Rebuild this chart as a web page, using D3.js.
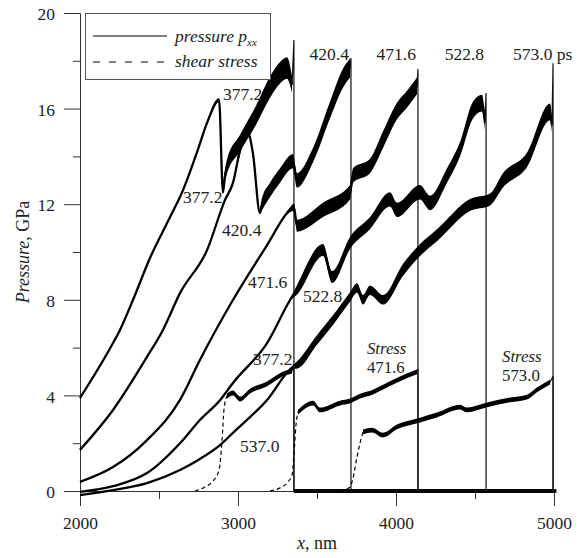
<!DOCTYPE html>
<html><head><meta charset="utf-8">
<script src="https://cdn.jsdelivr.net/npm/d3@7"></script>
<style>
body{margin:0;background:#fff}
svg text{font-family:"Liberation Serif","Times New Roman",serif;fill:#222}
</style></head><body>
<svg id="chart" width="584" height="558"></svg>
<script>
// Pressure p_xx and shear stress profiles behind a travelling shock front.
// Each point: [x (nm), value (GPa), fluctuation half-width (GPa)]
const times = ["377.2", "420.4", "471.6", "522.8", "573.0"];
const fronts = [3354, 3715, 4139, 4570, 4994];

const p377 = [[2000,3.89,0],[2209,6.19,0],[2253,6.74,0],[2335,7.99,0],[2443,9.75,0],[2570,11.46,0],[2652,12.59,0],[2741,14.18,0.05],[2804,15.40,0.08],[2880,16.36,0.08],[2905,12.5,0.05],[2918,13.2,0.25],[2930,13.56,0.3],[3013,14.56,0.35],[3120,15.8,0.4],[3203,16.9,0.45],[3266,17.5,0.45],[3310,17.7,0.45],[3342,17.0,0.35],[3354,18.87,0],[3354,0,0.08],[5000,0,0.08]];
const p420 = [[2000,1.72,0],[2209,3.39,0],[2424,5.61,0],[2525,6.74,0],[2633,8.28,0],[2804,10.08,0],[2918,12.18,0],[2968,12.89,0.08],[3013,14.27,0.2],[3057,15.10,0.15],[3095,14.1,0.05],[3139,11.63,0.05],[3150,11.97,0.25],[3203,12.6,0.3],[3266,13.2,0.3],[3348,13.8,0.3],[3373,13.0,0.3],[3475,14.06,0.3],[3582,15.94,0.35],[3665,17.28,0.4],[3709,17.7,0.4],[3715,18.12,0],[3715,0,0.08],[5000,0,0.08]];
const p471 = [[2000,0.38,0],[2209,1.00,0],[2424,2.13,0],[2633,3.81,0],[2759,5.48,0],[2968,7.99,0],[3076,9.16,0],[3184,10.29,0],[3329,11.76,0.1],[3354,11.88,0.15],[3373,11.1,0.25],[3538,11.76,0.3],[3709,12.5,0.3],[3728,13.2,0.3],[3835,13.6,0.3],[3918,14.7,0.35],[4006,15.9,0.35],[4070,16.4,0.35],[4133,16.95,0.35],[4139,17.66,0],[4139,0,0.08],[5000,0,0.08]];
const p522 = [[2000,-0.04,0],[2209,0.2,0],[2424,0.75,0],[2633,2.0,0],[2759,2.97,0],[2886,3.8,0],[2968,4.52,0],[3184,6.19,0],[3342,8.12,0.08],[3373,8.41,0.2],[3538,10.08,0.25],[3595,8.95,0.25],[3709,10.38,0.25],[3835,11.2,0.25],[3962,12.2,0.3],[4006,11.76,0.3],[4152,12.5,0.3],[4215,12.05,0.3],[4323,13.2,0.3],[4405,14.3,0.3],[4487,15.94,0.35],[4544,16.23,0.35],[4563,15.4,0.3],[4570,16.65,0],[4570,0,0.08],[5000,0,0.08]];
const p573 = [[2000,-0.17,0],[2209,0.04,0],[2424,0.33,0],[2633,0.88,0],[2759,1.34,0],[2886,1.92,0],[2968,2.43,0],[3184,3.81,0],[3348,5.19,0.08],[3373,5.27,0.15],[3500,6.32,0.2],[3601,7.15,0.2],[3709,8.12,0.2],[3753,8.49,0.2],[3791,8.0,0.2],[3835,8.4,0.2],[3918,8.0,0.2],[4044,9.25,0.25],[4152,10.08,0.25],[4259,10.7,0.25],[4468,11.97,0.25],[4595,12.2,0.25],[4677,13.0,0.3],[4829,13.85,0.3],[4975,15.86,0.35],[4987,15.3,0.3],[4994,17.9,0],[4994,0,0.08],[5015,0,0.08]];

const s377 = [[2728,0,0],[2791,0.17,0],[2842,0.42,0],[2880,0.88,0],[2899,2.13,0],[2911,3.39,0],[2930,3.97,0.1],[2968,4.10,0.1],[3013,3.85,0.1],[3076,4.18,0.1],[3184,4.48,0.1],[3285,4.90,0.1],[3342,5.02,0.1],[3354,5.3,0],[3354,0,0]];
const s471 = [[3203,0,0],[3266,0.13,0],[3316,0.38,0],[3342,0.67,0],[3354,1.5,0],[3367,2.76,0],[3380,3.30,0.1],[3475,3.68,0.1],[3519,3.39,0.1],[3646,3.68,0.1],[3709,3.77,0.1],[3772,3.97,0.1],[3854,4.14,0.1],[3918,4.35,0.1],[4025,4.69,0.1],[4133,4.98,0.1],[4139,5.1,0],[4139,0,0]];
const s573 = [[3646,0,0],[3709,0.17,0],[3728,0.54,0],[3753,1.42,0],[3772,2.0,0],[3791,2.47,0.1],[3848,2.55,0.1],[3918,2.34,0.1],[4006,2.68,0.1],[4152,2.97,0.1],[4259,3.18,0.1],[4405,3.51,0.1],[4449,3.39,0.1],[4576,3.6,0.1],[4722,3.81,0.1],[4829,3.93,0.1],[4892,4.23,0.1],[4975,4.56,0.1],[4994,4.8,0],[4994,0,0]];

const xMajor = [2000, 3000, 4000, 5000];
const xMinor = [2500, 3500, 4500];
const yMajor = [0, 4, 8, 12, 16, 20];
const yMinor = [2, 6, 10, 14, 18];

// curve annotations: [lines of text, x (nm), y of first baseline (GPa), italic first line]
const notes = [
  [["377.2"], 2905, 16.36], [["377.2"], 2652, 12.05], [["420.4"], 2899, 10.67],
  [["471.6"], 3063, 8.49], [["522.8"], 3411, 7.91], [["377.2"], 3095, 5.27],
  [["537.0"], 3013, 1.63],
  [["Stress", "471.6"], 3816, 5.72, true],
  [["Stress", "573.0"], 4671, 5.39, true]
];
const frontLabelY = 18.03;

const svg = d3.select("#chart");
const x = d3.scaleLinear().domain([2000, 5000]).range([80, 554]);
const y = d3.scaleLinear().domain([0, 20]).range([491, 13]);
const FS = 17.5;

// axes
function styleAxis(g) {
  g.selectAll("path,line").attr("stroke", "#333").attr("stroke-width", 1);
  g.selectAll("text").attr("font-size", FS).attr("fill", "#222")
    .attr("font-family", "Liberation Serif, Times New Roman, serif");
}
svg.append("g").attr("transform", "translate(0,491)")
  .call(d3.axisBottom(x).tickValues(xMinor).tickSize(8).tickSizeOuter(0).tickFormat(""))
  .call(styleAxis);
svg.append("g").attr("transform", "translate(0,491)")
  .call(d3.axisBottom(x).tickValues(xMajor).tickSize(15).tickSizeOuter(0).tickPadding(11).tickFormat(d3.format("d")))
  .call(styleAxis);
svg.append("g").attr("transform", "translate(80,0)")
  .call(d3.axisLeft(y).tickValues(yMinor).tickSize(7).tickSizeOuter(0).tickFormat(""))
  .call(styleAxis);
svg.append("g").attr("transform", "translate(80,0)")
  .call(d3.axisLeft(y).tickValues(yMajor).tickSize(16).tickSizeOuter(0).tickPadding(9).tickFormat(d3.format("d")))
  .call(g => g.selectAll("text").attr("dy", "0.38em"))
  .call(styleAxis);

const smooth = d3.curveMonotoneX;
const bandSmooth = d3.area().curve(smooth).x(d => x(d[0])).y0(d => y(d[1] - d[2])).y1(d => y(d[1] + d[2]));
const lineSmooth = d3.line().curve(smooth).x(d => x(d[0])).y(d => y(d[1]));
const bandLin = d3.area().x(d => x(d[0])).y0(d => y(d[1] - d[2])).y1(d => y(d[1] + d[2]));
const lineLin = d3.line().x(d => x(d[0])).y(d => y(d[1]));
const plot = svg.append("g");

function drawPressure(data, front) {
  const pre = data.filter(d => d[0] < front);
  const post = [pre[pre.length - 1]].concat(data.filter(d => d[0] >= front));
  const ahead = data.filter(d => d[0] >= front && d[1] === 0);
  plot.append("path").datum(pre).attr("d", bandSmooth).attr("fill", "#000");
  plot.append("path").datum(ahead).attr("d", bandLin).attr("fill", "#000");
  plot.append("path").datum(pre).attr("d", lineSmooth).attr("fill", "none")
    .attr("stroke", "#000").attr("stroke-width", 2.3).attr("stroke-linejoin", "round");
  plot.append("path").datum(post).attr("d", lineLin).attr("fill", "none")
    .attr("stroke", "#111").attr("stroke-width", 1.2);
}
function drawStress(data, front) {
  const k = data.findIndex(d => d[2] > 0);
  const rise = data.slice(0, k + 1);
  const plateau = data.filter(d => d[2] > 0);
  const drop = [plateau[plateau.length - 1]].concat(data.filter(d => d[0] >= front));
  plot.append("path").datum(rise).attr("d", lineSmooth).attr("fill", "none")
    .attr("stroke", "#000").attr("stroke-width", 1.2).attr("stroke-dasharray", "4,3");
  plot.append("path").datum(plateau).attr("d", bandSmooth).attr("fill", "#000");
  plot.append("path").datum(plateau).attr("d", lineSmooth).attr("fill", "none")
    .attr("stroke", "#000").attr("stroke-width", 2);
  plot.append("path").datum(drop).attr("d", lineLin).attr("fill", "none")
    .attr("stroke", "#111").attr("stroke-width", 1.2);
}
[p377, p420, p471, p522, p573].forEach((d, i) => drawPressure(d, fronts[i]));
drawStress(s377, fronts[0]);
drawStress(s471, fronts[2]);
drawStress(s573, fronts[4]);

// time labels above the fronts
const frontLabels = svg.append("g");
times.slice(1).forEach((t, i) => {
  const f = fronts[i + 1];
  const txt = frontLabels.append("text").attr("y", y(frontLabelY)).attr("font-size", FS);
  if (i === times.length - 2) {
    txt.attr("x", x(f) - 40).text(t + " ps");
  } else {
    txt.attr("x", x(f) - 2).attr("text-anchor", "end").text(t);
  }
});

notes.forEach(n => {
  const fs = n[0].length > 1 ? 16.8 : FS;
  const t = svg.append("text").attr("x", x(n[1])).attr("y", y(n[2])).attr("font-size", fs);
  n[0].forEach((s, i) => {
    t.append("tspan").attr("x", x(n[1])).attr("dy", i ? 19 : 0)
      .attr("font-style", (n[3] && i === 0) ? "italic" : null).text(s);
  });
});

// legend
const lg = svg.append("g");
lg.append("rect").attr("x", 85.5).attr("y", 13.5).attr("width", 185).attr("height", 66)
  .attr("fill", "#fff").attr("stroke", "#555").attr("stroke-width", 1);
lg.append("line").attr("x1", 93).attr("x2", 167).attr("y1", 36).attr("y2", 36)
  .attr("stroke", "#000").attr("stroke-width", 1.2);
lg.append("line").attr("x1", 93).attr("x2", 165).attr("y1", 62).attr("y2", 62)
  .attr("stroke", "#000").attr("stroke-width", 1.2).attr("stroke-dasharray", "7,9");
const l1 = lg.append("text").attr("x", 175).attr("y", 42).attr("font-size", FS).attr("font-style", "italic");
l1.append("tspan").text("pressure p");
l1.append("tspan").attr("font-size", 11).attr("dy", 4).text("xx");
lg.append("text").attr("x", 175).attr("y", 67).attr("font-size", FS).attr("font-style", "italic").text("shear stress");

// axis titles
const yt = svg.append("text").attr("transform", "translate(29,252) rotate(-90)")
  .attr("text-anchor", "middle").attr("font-size", 18);
yt.append("tspan").attr("font-style", "italic").text("Pressure");
yt.append("tspan").text(", GPa");
const xt = svg.append("text").attr("x", 297).attr("y", 549).attr("font-size", 18);
xt.append("tspan").attr("font-style", "italic").text("x");
xt.append("tspan").text(", nm");
</script></body></html>
